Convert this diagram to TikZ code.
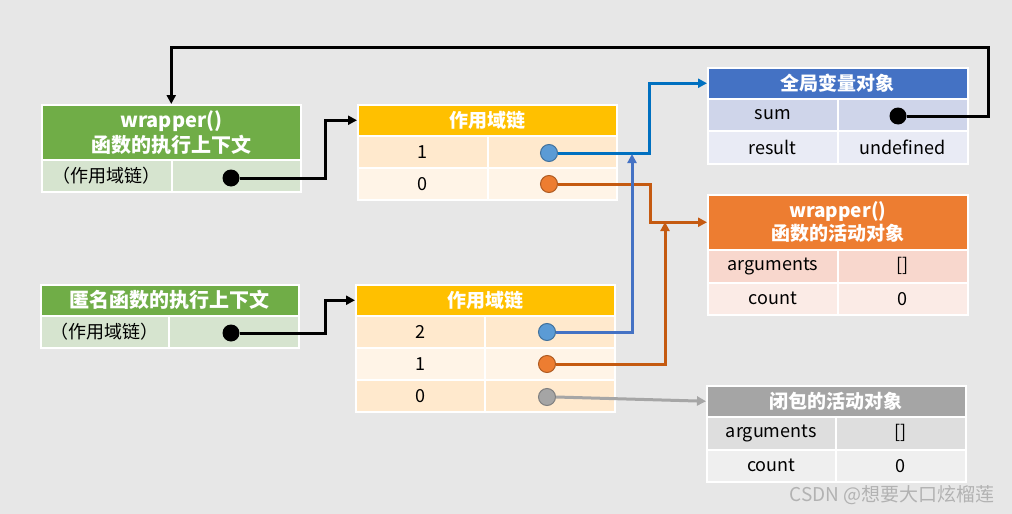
\documentclass[tikz,border=0pt]{standalone}
\usepackage{fontspec}
\setmainfont{Noto Sans CJK SC}
\usetikzlibrary{arrows.meta}
\definecolor{bgc}{HTML}{E7E7E7}
\definecolor{gH}{HTML}{70AD47}
\definecolor{gR}{HTML}{D6E4CF}
\definecolor{yH}{HTML}{FFC000}
\definecolor{yA}{HTML}{FFE9CD}
\definecolor{yB}{HTML}{FFF4E7}
\definecolor{bH}{HTML}{4472C4}
\definecolor{bA}{HTML}{CFD5EA}
\definecolor{bB}{HTML}{E9EBF5}
\definecolor{oH}{HTML}{ED7D31}
\definecolor{oA}{HTML}{F8D7CD}
\definecolor{oB}{HTML}{FBEBE6}
\definecolor{aH}{HTML}{A5A5A5}
\definecolor{aA}{HTML}{DEDEDE}
\definecolor{aB}{HTML}{EFEFEF}
\definecolor{lnBlue}{HTML}{0070C0}
\definecolor{lnBlue2}{HTML}{4472C4}
\definecolor{lnOr}{HTML}{C55A11}
\definecolor{lnGr}{HTML}{A6A6A6}
\definecolor{dBlue}{HTML}{5B9BD5}
\definecolor{dBlueB}{HTML}{41719C}
\definecolor{dOr}{HTML}{ED7D31}
\definecolor{dOrB}{HTML}{AE5A21}
\definecolor{dGr}{HTML}{A5A5A5}
\definecolor{dGrB}{HTML}{7F7F7F}
\begin{document}
\begin{tikzpicture}[x=1pt,y=-1pt,
  cell/.style={draw=white, line width=1.5pt, anchor=north west, inner sep=0pt,
    font=\fontsize{18}{21}\selectfont, text=black},
  hdr/.style={cell, text=white, align=center, font=\fontsize{19}{23}\selectfont\bfseries},
  ghdr/.style={hdr, fill=gH, font=\fontsize{20}{25}\selectfont\bfseries},
  dot/.style={circle, inner sep=0pt, minimum size=17pt, line width=1pt},
  conn/.style={line width=3pt, -{Triangle[length=9pt,width=9pt]}},
]
\fill[bgc] (0,0) rectangle (1012,514);
\useasboundingbox (0,0) rectangle (1012,514);

% green table 1
\node[ghdr, minimum width=259pt, minimum height=55pt] (g1h) at (41,104) {wrapper()\\函数的执行上下文};
\node[cell, fill=gR, minimum width=130pt, minimum height=32pt] (g1a) at (41,159) {（作用域链）};
\node[cell, fill=gR, minimum width=129pt, minimum height=32pt] (g1b) at (171,159) {};

% green table 2
\node[ghdr, minimum width=258pt, minimum height=31pt] (g2h) at (40,284) {匿名函数的执行上下文};
\node[cell, fill=gR, minimum width=128pt, minimum height=32pt] (g2a) at (40,315) {（作用域链）};
\node[cell, fill=gR, minimum width=130pt, minimum height=32pt] (g2b) at (168,315) {};

% yellow table 1
\node[hdr, fill=yH, minimum width=259pt, minimum height=31pt] (y1h) at (357,104) {作用域链};
\node[cell, fill=yA, minimum width=130pt, minimum height=32pt] (y1a1) at (357,135) {1};
\node[cell, fill=yA, minimum width=129pt, minimum height=32pt] (y1b1) at (487,135) {};
\node[cell, fill=yB, minimum width=130pt, minimum height=32pt] (y1a0) at (357,167) {0};
\node[cell, fill=yB, minimum width=129pt, minimum height=32pt] (y1b0) at (487,167) {};

% yellow table 2
\node[hdr, fill=yH, minimum width=259pt, minimum height=31pt] (y2h) at (355,284) {作用域链};
\node[cell, fill=yA, minimum width=129pt, minimum height=32pt] (y2a2) at (355,315) {2};
\node[cell, fill=yA, minimum width=130pt, minimum height=32pt] (y2b2) at (484,315) {};
\node[cell, fill=yB, minimum width=129pt, minimum height=32pt] (y2a1) at (355,347) {1};
\node[cell, fill=yB, minimum width=130pt, minimum height=32pt] (y2b1) at (484,347) {};
\node[cell, fill=yA, minimum width=129pt, minimum height=32pt] (y2a0) at (355,379) {0};
\node[cell, fill=yA, minimum width=130pt, minimum height=32pt] (y2b0) at (484,379) {};

% global object
\node[hdr, fill=bH, minimum width=260pt, minimum height=31pt] (bh) at (707,67) {全局变量对象};
\node[cell, fill=bA, minimum width=130pt, minimum height=32pt] (ba1) at (707,98) {sum};
\node[cell, fill=bA, minimum width=130pt, minimum height=32pt] (bb1) at (837,98) {};
\node[cell, fill=bB, minimum width=130pt, minimum height=33pt] (ba2) at (707,130) {result};
\node[cell, fill=bB, minimum width=130pt, minimum height=33pt] (bb2) at (837,130) {undefined};

% wrapper activation object
\node[hdr, fill=oH, minimum width=260pt, minimum height=55pt] (oh) at (707,194) {wrapper()\\函数的活动对象};
\node[cell, fill=oA, minimum width=130pt, minimum height=33pt] (oa1) at (707,249) {arguments};
\node[cell, fill=oA, minimum width=130pt, minimum height=33pt] (ob1) at (837,249) {[]};
\node[cell, fill=oB, minimum width=130pt, minimum height=32pt] (oa2) at (707,282) {count};
\node[cell, fill=oB, minimum width=130pt, minimum height=32pt] (ob2) at (837,282) {0};

% closure activation object
\node[hdr, fill=aH, minimum width=259pt, minimum height=31pt] (gh) at (706,385) {闭包的活动对象};
\node[cell, fill=aA, minimum width=129pt, minimum height=33pt] (ga1) at (706,416) {arguments};
\node[cell, fill=aA, minimum width=130pt, minimum height=33pt] (gb1) at (835,416) {[]};
\node[cell, fill=aB, minimum width=129pt, minimum height=32pt] (ga2) at (706,449) {count};
\node[cell, fill=aB, minimum width=130pt, minimum height=32pt] (gb2) at (835,449) {0};

% dots
\node[dot, fill=black] (g1d) at (231,178) {};
\node[dot, fill=black] (g2d) at (231,333) {};
\node[dot, fill=black] (sd) at (898,116) {};
\node[dot, fill=dBlue, draw=dBlueB] (y1d1) at (549,153) {};
\node[dot, fill=dOr, draw=dOrB] (y1d0) at (549,184) {};
\node[dot, fill=dBlue, draw=dBlueB] (y2d2) at (547,332) {};
\node[dot, fill=dOr, draw=dOrB] (y2d1) at (547,364) {};
\node[dot, fill=dGr, draw=dGrB] (y2d0) at (547,397) {};

% helper coordinates
\coordinate (topR) at (988,47);
\coordinate (bjoin) at (632,154);
\coordinate (ojoin) at (665,222);

% connectors
\draw[conn, black] (g1d.east) -| ([xshift=-32pt]y1h.west) -- (y1h.west);
\draw[conn, black] (g2d.east) -| ([xshift=-30pt]y2h.west) -- (y2h.west);
\draw[conn, black] (sd.east) -| (topR) -| (g1h.north);
\draw[conn, lnBlue] (y1d1.east) -| ([xshift=-58pt]bh.west) -- (bh.west);
\draw[conn, lnOr] (y1d0.east) -| ([xshift=-57pt]oh.west) -- (oh.west);
\draw[conn, lnBlue2] (y2d2.east) -| (bjoin);
\draw[conn, lnOr] (y2d1.east) -| (ojoin);
\draw[conn, lnGr] (y2d0.east) -- (gh.west);

% watermark
\node[anchor=east, text=black!30, font=\fontsize{19}{22}\selectfont] (wm) at (998,495) {CSDN @想要大口炫榴莲};
\end{tikzpicture}
\end{document}
